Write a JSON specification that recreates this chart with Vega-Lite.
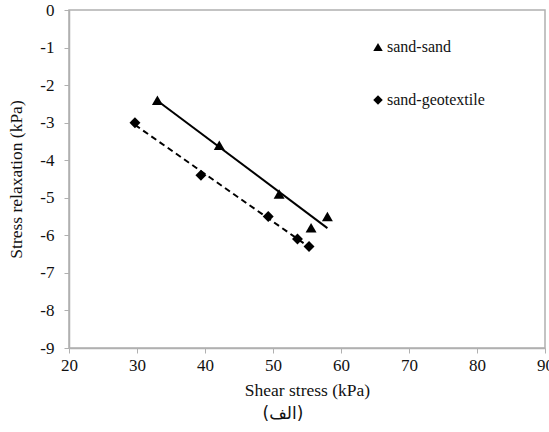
{
  "$schema": "https://vega.github.io/schema/vega-lite/v6.json",
  "width": 476,
  "height": 338,
  "autosize": "none",
  "padding": {"left": 69, "top": 10, "right": 4, "bottom": 84},
  "background": "white",
  "config": {
    "font": "Times New Roman",
    "view": {"stroke": "#b0b0b0", "strokeWidth": 1.5},
    "axis": {
      "grid": false,
      "domainColor": "#b0b0b0",
      "domainWidth": 1.5,
      "tickColor": "#b0b0b0",
      "tickSize": 5,
      "labelFont": "Times New Roman",
      "labelFontSize": 17,
      "labelColor": "#111",
      "labelOverlap": false,
      "titleFont": "Times New Roman",
      "titleFontSize": 17.5,
      "titleFontWeight": "normal",
      "titleColor": "#111"
    }
  },
  "title": {
    "text": "(الف)",
    "orient": "bottom",
    "font": "DejaVu Sans",
    "fontSize": 17,
    "fontWeight": "normal",
    "color": "#111",
    "dx": -24,
    "offset": 7
  },
  "data": {
    "values": [
      {"shear": 33.0, "relaxation": -2.4, "series": "sand-sand"},
      {"shear": 42.1, "relaxation": -3.6, "series": "sand-sand"},
      {"shear": 50.9, "relaxation": -4.9, "series": "sand-sand"},
      {"shear": 55.6, "relaxation": -5.8, "series": "sand-sand"},
      {"shear": 58.0, "relaxation": -5.5, "series": "sand-sand"},
      {"shear": 29.7, "relaxation": -3.0, "series": "sand-geotextile"},
      {"shear": 39.4, "relaxation": -4.4, "series": "sand-geotextile"},
      {"shear": 49.3, "relaxation": -5.5, "series": "sand-geotextile"},
      {"shear": 53.6, "relaxation": -6.1, "series": "sand-geotextile"},
      {"shear": 55.3, "relaxation": -6.3, "series": "sand-geotextile"}
    ]
  },
  "layer": [
    {
      "transform": [
        {"filter": "datum.series === 'sand-sand'"},
        {"regression": "relaxation", "on": "shear"}
      ],
      "mark": {"type": "line", "color": "black", "strokeWidth": 2},
      "encoding": {
        "x": {"field": "shear", "type": "quantitative"},
        "y": {"field": "relaxation", "type": "quantitative"}
      }
    },
    {
      "transform": [
        {"filter": "datum.series === 'sand-geotextile'"},
        {"regression": "relaxation", "on": "shear"}
      ],
      "mark": {"type": "line", "color": "black", "strokeWidth": 2, "strokeDash": [6, 4]},
      "encoding": {
        "x": {"field": "shear", "type": "quantitative"},
        "y": {"field": "relaxation", "type": "quantitative"}
      }
    },
    {
      "mark": {"type": "point", "filled": true, "color": "black", "opacity": 1, "size": 120},
      "encoding": {
        "x": {
          "field": "shear",
          "type": "quantitative",
          "title": "Shear stress (kPa)",
          "scale": {"domain": [20, 90], "nice": false, "zero": false},
          "axis": {
            "tickCount": 7,
            "labelOverlap": false,
            "labelFlush": false,
            "labelPadding": 4,
            "titlePadding": 8
          }
        },
        "y": {
          "field": "relaxation",
          "type": "quantitative",
          "title": "Stress relaxation (kPa)",
          "scale": {"domain": [-9, 0], "nice": false, "zero": false},
          "axis": {
            "tickCount": 9,
            "labelExpr": "replace(datum.label, '−', '-')",
            "labelOverlap": false,
            "labelFlush": false,
            "labelPadding": 10,
            "titlePadding": 14
          }
        },
        "shape": {
          "field": "series",
          "type": "nominal",
          "scale": {"domain": ["sand-sand", "sand-geotextile"], "range": ["triangle-up", "diamond"]},
          "legend": {
            "title": null,
            "orient": "none",
            "legendX": 301,
            "legendY": 29,
            "padding": 0,
            "rowPadding": 37,
            "symbolSize": 90,
            "symbolFillColor": "black",
            "symbolStrokeColor": "black",
            "symbolOffset": 0,
            "labelOffset": 1,
            "labelFont": "Times New Roman",
            "labelFontSize": 16,
            "labelColor": "#111"
          }
        }
      }
    }
  ]
}
